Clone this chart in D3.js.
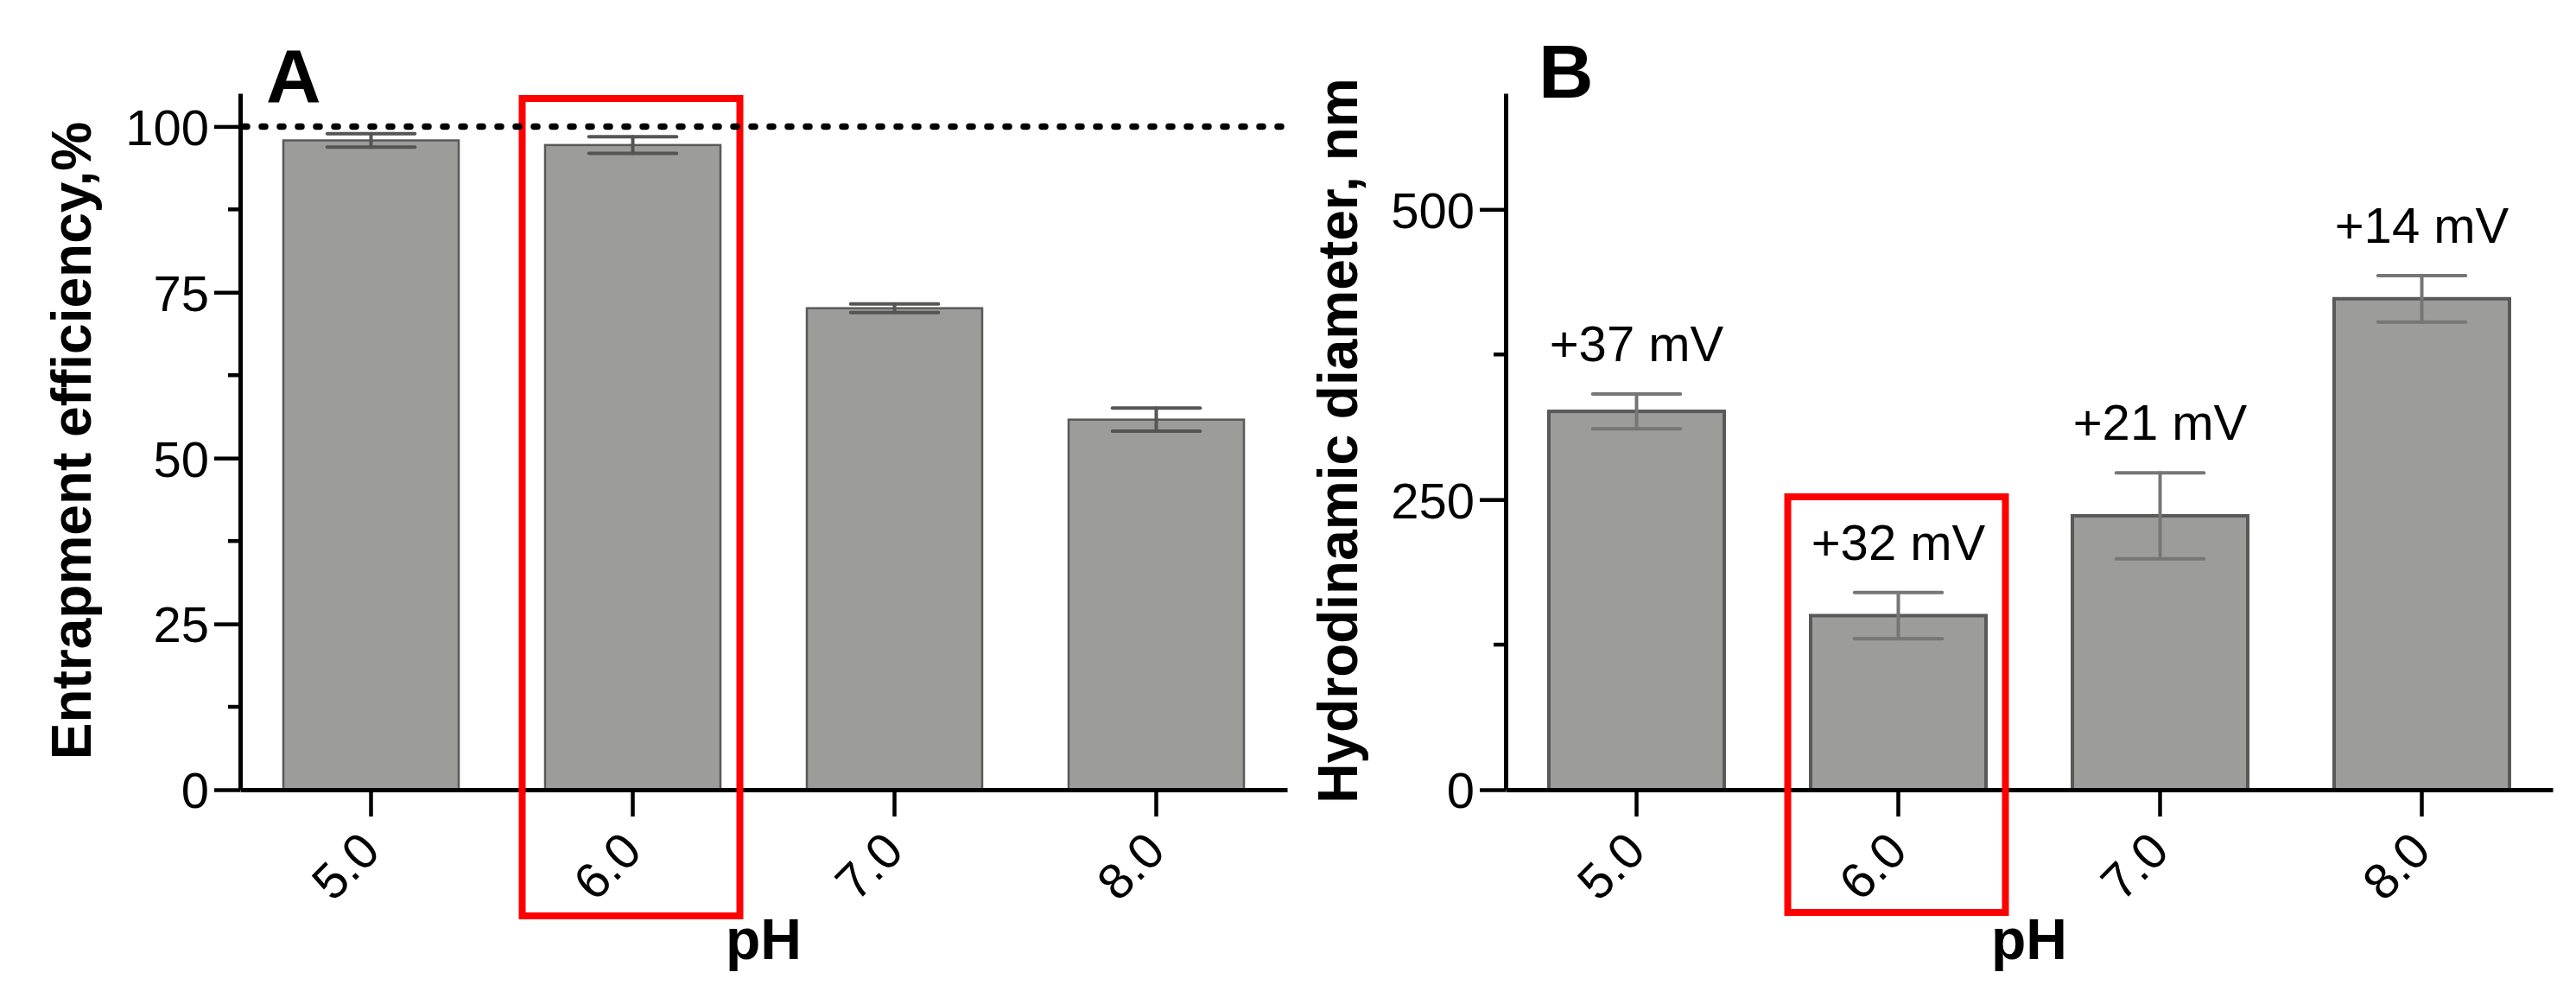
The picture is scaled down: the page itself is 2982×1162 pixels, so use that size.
<!DOCTYPE html>
<html>
<head>
<meta charset="utf-8">
<script src="https://cdn.jsdelivr.net/npm/d3@7"></script>
<style>
  html, body { margin: 0; padding: 0; background: #fff; }
  svg { display: block; }
  text { font-family: "Liberation Sans", Arial, Helvetica, sans-serif; fill: #000; }
</style>
</head>
<body>
<svg id="chart" width="2982" height="1162"></svg>
<script>
// ---------- data ----------
const phLabels = ["5.0", "6.0", "7.0", "8.0"];
const efficiencyMean = [97.9, 97.2, 72.6, 55.8];
const efficiencySd = [1.0, 1.25, 0.65, 1.75];
const diameterMean = [326, 150, 236, 423];
const diameterSd = [15, 20, 37, 20];
const zetaLabels = ["+37 mV", "+32 mV", "+21 mV", "+14 mV"];
const efficiencyTicks = [0, 25, 50, 75, 100];
const efficiencyMinorTicks = [12.5, 37.5, 62.5, 87.5];
const diameterTicks = [0, 250, 500];
const diameterMinorTicks = [125, 375];
const referenceLine = 100;
const highlighted = "6.0";

// ---------- layout ----------
const svg = d3.select("#chart");
const yBottom = 914, yTop = 108;

function panel(opts) {
  const g = svg.append("g");
  const x = d3.scaleBand().domain(phLabels).range([opts.x0, opts.x0 + 1212])
    .paddingInner(0.33).paddingOuter(0.165);
  const y = d3.scaleLinear().domain(opts.domain).range([yBottom, yTop]);
  const data = phLabels.map((p, i) => ({ p, m: opts.mean[i], s: opts.sd[i], i }));

  // bars
  g.selectAll("rect.bar").data(data).join("rect")
    .attr("class", "bar")
    .attr("x", d => x(d.p))
    .attr("width", x.bandwidth())
    .attr("y", d => y(d.m))
    .attr("height", d => y(0) - y(d.m))
    .attr("fill", "#9c9c9a")
    .attr("stroke", "#595959")
    .attr("stroke-width", opts.barStroke);

  // error bars
  const capW = x.bandwidth() * 0.5;
  const eb = g.selectAll("g.err").data(data).join("g").attr("class", "err")
    .attr("stroke", opts.errColor).attr("stroke-width", 4).attr("stroke-linecap", "round");
  eb.append("line")
    .attr("x1", d => x(d.p) + x.bandwidth() / 2).attr("x2", d => x(d.p) + x.bandwidth() / 2)
    .attr("y1", d => y(d.m + d.s)).attr("y2", d => y(d.m - d.s));
  eb.append("line")
    .attr("x1", d => x(d.p) + x.bandwidth() / 2 - capW / 2).attr("x2", d => x(d.p) + x.bandwidth() / 2 + capW / 2)
    .attr("y1", d => y(d.m + d.s)).attr("y2", d => y(d.m + d.s));
  eb.append("line")
    .attr("x1", d => x(d.p) + x.bandwidth() / 2 - capW / 2).attr("x2", d => x(d.p) + x.bandwidth() / 2 + capW / 2)
    .attr("y1", d => y(d.m - d.s)).attr("y2", d => y(d.m - d.s));

  // y axis
  const ya = g.append("g").attr("transform", `translate(${opts.x0},0)`)
    .call(d3.axisLeft(y).tickValues(opts.ticks).tickSize(30).tickSizeOuter(0).tickPadding(6)
      .tickFormat(d3.format("d")));
  ya.select(".domain").attr("stroke", "#000").attr("stroke-width", 5);
  ya.selectAll(".tick line").attr("stroke", "#000").attr("stroke-width", 4.5);
  ya.selectAll(".tick text").attr("font-size", 58).attr("font-family", null).attr("dy", "0.36em");
  ya.selectAll("line.minor").data(opts.minor).join("line").attr("class", "minor")
    .attr("x1", -14).attr("x2", 0).attr("y1", d => y(d)).attr("y2", d => y(d))
    .attr("stroke", "#000").attr("stroke-width", 4.5);

  // x axis
  const xa = g.append("g").attr("transform", `translate(0,${yBottom})`)
    .call(d3.axisBottom(x).tickSize(31).tickSizeOuter(0));
  xa.select(".domain").attr("stroke", "#000").attr("stroke-width", 5);
  xa.selectAll(".tick line").attr("stroke", "#000").attr("stroke-width", 4.5);
  xa.selectAll(".tick text")
    .attr("y", null).attr("dy", null).attr("font-family", null)
    .attr("font-size", 58).attr("text-anchor", "end")
    .attr("transform", "translate(13,74) rotate(-45)");

  // titles
  g.append("text").attr("transform", `translate(${opts.titleX},510) rotate(-90)`)
    .attr("text-anchor", "middle").attr("font-size", 64).attr("font-weight", "bold")
    .text(opts.title);
  g.append("text").attr("x", opts.x0 + 606).attr("y", 1110)
    .attr("text-anchor", "middle").attr("font-size", 66).attr("font-weight", "bold")
    .text("pH");
  g.append("text").attr("x", opts.letterX).attr("y", opts.letterY)
    .attr("font-size", 88).attr("font-weight", "bold").text(opts.letter);

  // highlight box
  const hc = x(highlighted) + x.bandwidth() / 2;
  g.append("rect").attr("x", hc - 128).attr("width", 252)
    .attr("y", opts.boxTop).attr("height", opts.boxBottom - opts.boxTop)
    .attr("fill", "none").attr("stroke", "#ff0000").attr("stroke-width", 8);

  return { g, x, y, data };
}

// Panel A
const A = panel({
  x0: 278, domain: [0, 105], mean: efficiencyMean, sd: efficiencySd,
  ticks: efficiencyTicks, minor: efficiencyMinorTicks,
  barStroke: 2.5, errColor: "#555555",
  title: "Entrapment efficiency,%", titleX: 105,
  letter: "A", letterX: 308, letterY: 118,
  boxTop: 114, boxBottom: 1060
});
// reference dotted line at 100 %
A.g.append("line")
  .attr("x1", 282).attr("x2", 1490)
  .attr("y1", A.y(referenceLine)).attr("y2", A.y(referenceLine))
  .attr("stroke", "#000").attr("stroke-width", 7.5)
  .attr("stroke-linecap", "round").attr("stroke-dasharray", "4,17");

// Panel B
const B = panel({
  x0: 1743, domain: [0, 600], mean: diameterMean, sd: diameterSd,
  ticks: diameterTicks, minor: diameterMinorTicks,
  barStroke: 4, errColor: "#767676",
  title: "Hydrodinamic diameter, nm", titleX: 1571,
  letter: "B", letterX: 1781, letterY: 113,
  boxTop: 575, boxBottom: 1056
});
B.g.selectAll("text.zeta").data(B.data).join("text").attr("class", "zeta")
  .attr("x", d => B.x(d.p) + B.x.bandwidth() / 2)
  .attr("y", d => B.y(d.m + d.s) - 38)
  .attr("text-anchor", "middle").attr("font-size", 58)
  .text(d => zetaLabels[d.i]);
</script>
</body>
</html>
